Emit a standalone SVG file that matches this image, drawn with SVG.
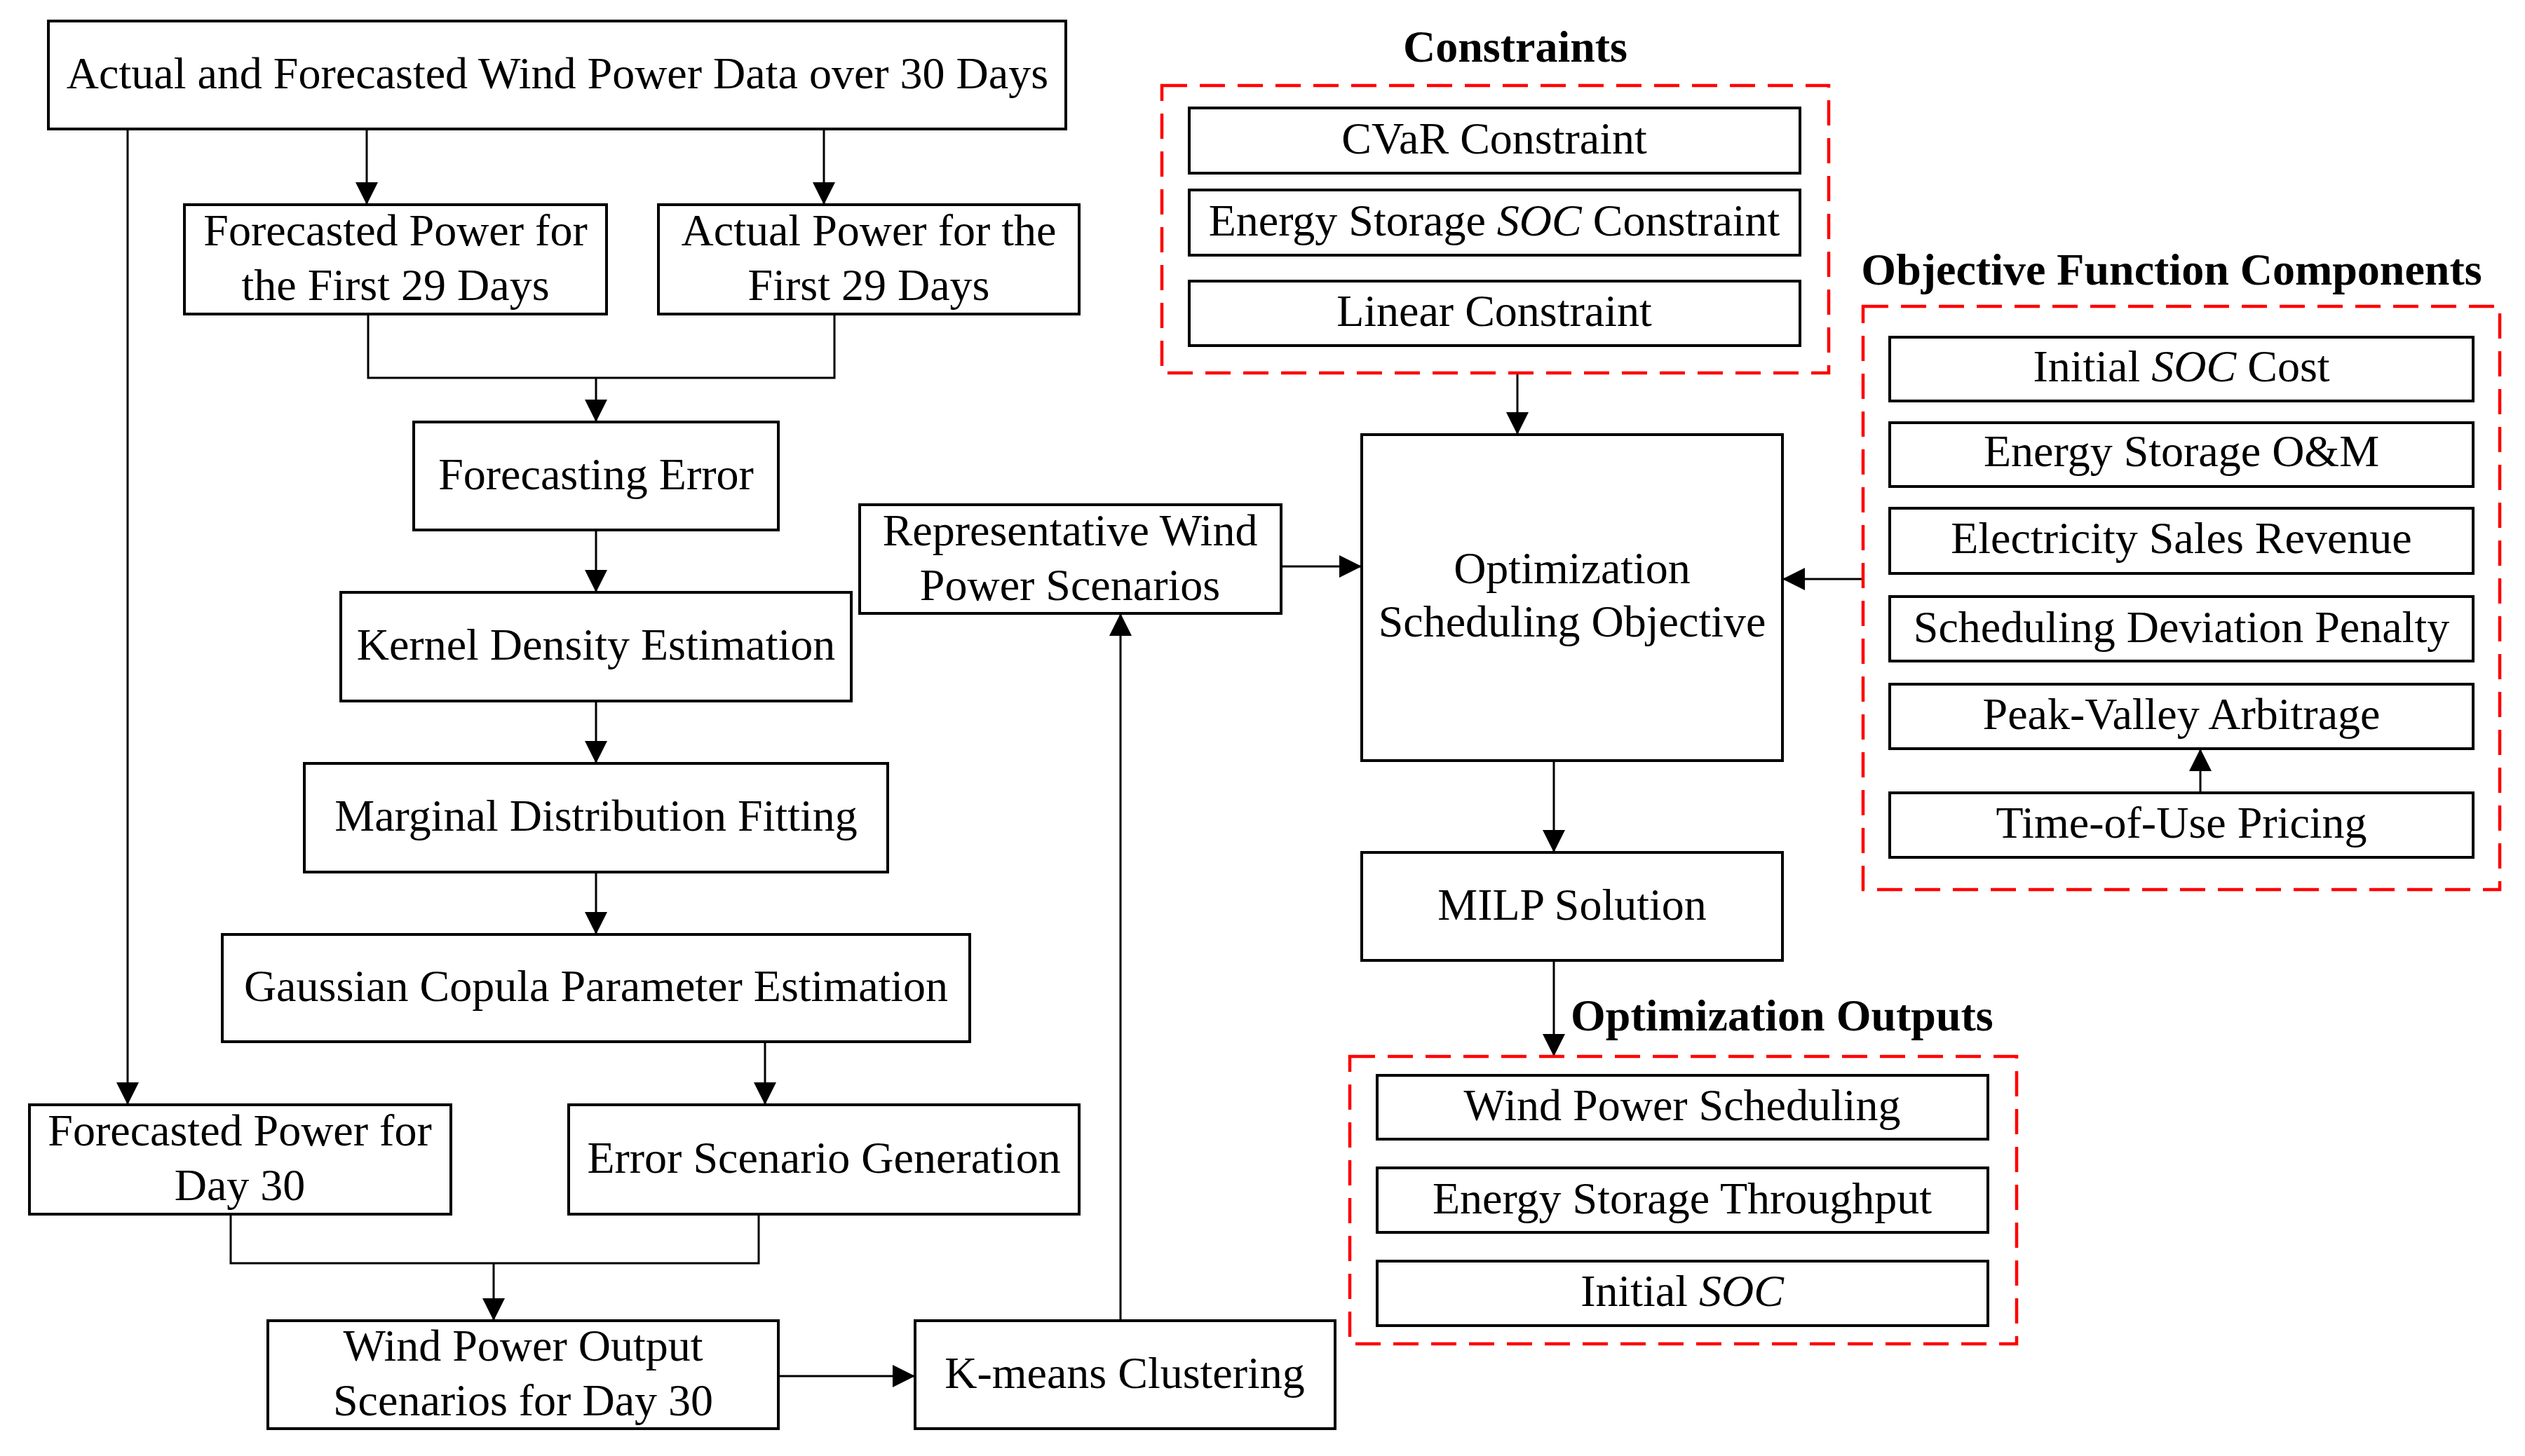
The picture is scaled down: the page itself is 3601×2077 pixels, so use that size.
<svg xmlns="http://www.w3.org/2000/svg" width="3601" height="2077" viewBox="0 0 3601 2077">
<style>
.b{fill:#fff;stroke:#000;stroke-width:4}
.g{fill:none;stroke:#ff0000;stroke-width:4.5;stroke-dasharray:36 18}
.t{font-family:"Liberation Serif","Times New Roman",serif;font-size:64px;fill:#000;text-anchor:middle}
.h{font-family:"Liberation Serif","Times New Roman",serif;font-size:64px;font-weight:bold;fill:#000}
.c{fill:none;stroke:#000;stroke-width:3}
.i{font-style:italic}
</style>
<defs>
<marker id="ah" markerUnits="userSpaceOnUse" markerWidth="32" markerHeight="32" viewBox="0 0 32 32" refX="32" refY="16" orient="auto">
<path d="M0,0 L32,16 L0,32 z" fill="#000"/>
</marker>
</defs>
<rect width="3601" height="2077" fill="#fff"/>

<g id="connectors">
<path class="c" d="M182,184 V1576" marker-end="url(#ah)"/>
<path class="c" d="M523,184 V292" marker-end="url(#ah)"/>
<path class="c" d="M1175,184 V292" marker-end="url(#ah)"/>
<path class="c" d="M525,448 V539 H1190 V448"/>
<path class="c" d="M850,539 V602" marker-end="url(#ah)"/>
<path class="c" d="M850,756 V845" marker-end="url(#ah)"/>
<path class="c" d="M850,1000 V1089" marker-end="url(#ah)"/>
<path class="c" d="M850,1244 V1333" marker-end="url(#ah)"/>
<path class="c" d="M1091,1486 V1576" marker-end="url(#ah)"/>
<path class="c" d="M329,1732 V1802 H1082 V1732"/>
<path class="c" d="M704,1802 V1884" marker-end="url(#ah)"/>
<path class="c" d="M1110,1963 H1305" marker-end="url(#ah)"/>
<path class="c" d="M1598,1884 V875" marker-end="url(#ah)"/>
<path class="c" d="M1827,808 H1942" marker-end="url(#ah)"/>
<path class="c" d="M2164,532 V620" marker-end="url(#ah)"/>
<path class="c" d="M2657,826 H2542" marker-end="url(#ah)"/>
<path class="c" d="M3138,1131 V1068" marker-end="url(#ah)"/>
<path class="c" d="M2216,1085 V1216" marker-end="url(#ah)"/>
<path class="c" d="M2216,1370 V1507" marker-end="url(#ah)"/>
</g>

<g id="n-data"><rect class="b" x="69" y="30" width="1451" height="154"/><text class="t" x="795" y="126">Actual and Forecasted Wind Power Data over 30 Days</text></g>
<g id="n-fc29"><rect class="b" x="263" y="292" width="602" height="156"/><text class="t" x="564" y="350">Forecasted Power for</text><text class="t" x="564" y="428">the First 29 Days</text></g>
<g id="n-act29"><rect class="b" x="939" y="292" width="600" height="156"/><text class="t" x="1239" y="350">Actual Power for the</text><text class="t" x="1239" y="428">First 29 Days</text></g>
<g id="n-ferr"><rect class="b" x="590" y="602" width="520" height="154"/><text class="t" x="850" y="698">Forecasting Error</text></g>
<g id="n-kde"><rect class="b" x="486" y="845" width="728" height="155"/><text class="t" x="850" y="941">Kernel Density Estimation</text></g>
<g id="n-mdf"><rect class="b" x="434" y="1089" width="832" height="155"/><text class="t" x="850" y="1185">Marginal Distribution Fitting</text></g>
<g id="n-gcpe"><rect class="b" x="317" y="1333" width="1066" height="153"/><text class="t" x="850" y="1428">Gaussian Copula Parameter Estimation</text></g>
<g id="n-fc30"><rect class="b" x="42" y="1576" width="601" height="156"/><text class="t" x="342" y="1634">Forecasted Power for</text><text class="t" x="342" y="1712">Day 30</text></g>
<g id="n-esg"><rect class="b" x="811" y="1576" width="728" height="156"/><text class="t" x="1175" y="1673">Error Scenario Generation</text></g>
<g id="n-wpos"><rect class="b" x="382" y="1884" width="728" height="154"/><text class="t" x="746" y="1941">Wind Power Output</text><text class="t" x="746" y="2019">Scenarios for Day 30</text></g>
<g id="n-km"><rect class="b" x="1305" y="1884" width="599" height="154"/><text class="t" x="1604" y="1980">K-means Clustering</text></g>
<g id="n-rep"><rect class="b" x="1226" y="720" width="601" height="155"/><text class="t" x="1526" y="778">Representative Wind</text><text class="t" x="1526" y="856">Power Scenarios</text></g>
<g id="n-opt"><rect class="b" x="1942" y="620" width="600" height="465"/><text class="t" x="2242" y="832">Optimization</text><text class="t" x="2242" y="908">Scheduling Objective</text></g>
<g id="n-milp"><rect class="b" x="1942" y="1216" width="600" height="154"/><text class="t" x="2242" y="1312">MILP Solution</text></g>

<g id="g-constraints">
<text class="h" x="2161" y="88" text-anchor="middle">Constraints</text>
<rect class="g" x="1657" y="122" width="951" height="410"/>
<g id="n-cvar"><rect class="b" x="1696" y="154" width="871" height="93"/><text class="t" x="2131" y="219">CVaR Constraint</text></g>
<g id="n-soc"><rect class="b" x="1696" y="271" width="871" height="93"/><text class="t" x="2131" y="336">Energy Storage <tspan class="i">SOC</tspan> Constraint</text></g>
<g id="n-lin"><rect class="b" x="1696" y="401" width="871" height="92"/><text class="t" x="2131" y="465">Linear Constraint</text></g>
</g>

<g id="g-objective">
<text class="h" x="3097" y="406" text-anchor="middle">Objective Function Components</text>
<rect class="g" x="2657" y="437" width="908" height="832"/>
<g id="n-isoc"><rect class="b" x="2695" y="481" width="832" height="91"/><text class="t" x="3111" y="544">Initial <tspan class="i">SOC</tspan> Cost</text></g>
<g id="n-om"><rect class="b" x="2695" y="603" width="832" height="91"/><text class="t" x="3111" y="665">Energy Storage O&amp;M</text></g>
<g id="n-esr"><rect class="b" x="2695" y="725" width="832" height="93"/><text class="t" x="3111" y="789">Electricity Sales Revenue</text></g>
<g id="n-sdp"><rect class="b" x="2695" y="851" width="832" height="92"/><text class="t" x="3111" y="916">Scheduling Deviation Penalty</text></g>
<g id="n-pva"><rect class="b" x="2695" y="976" width="832" height="92"/><text class="t" x="3111" y="1040">Peak-Valley Arbitrage</text></g>
<g id="n-tou"><rect class="b" x="2695" y="1131" width="832" height="92"/><text class="t" x="3111" y="1195">Time-of-Use Pricing</text></g>
</g>

<g id="g-outputs">
<text class="h" x="2240" y="1470">Optimization Outputs</text>
<rect class="g" x="1925" y="1507" width="951" height="410"/>
<g id="n-wps"><rect class="b" x="1964" y="1534" width="871" height="91"/><text class="t" x="2399" y="1598">Wind Power Scheduling</text></g>
<g id="n-est"><rect class="b" x="1964" y="1666" width="871" height="92"/><text class="t" x="2399" y="1731">Energy Storage Throughput</text></g>
<g id="n-isoc2"><rect class="b" x="1964" y="1799" width="871" height="92"/><text class="t" x="2399" y="1863">Initial <tspan class="i">SOC</tspan></text></g>
</g>
</svg>
